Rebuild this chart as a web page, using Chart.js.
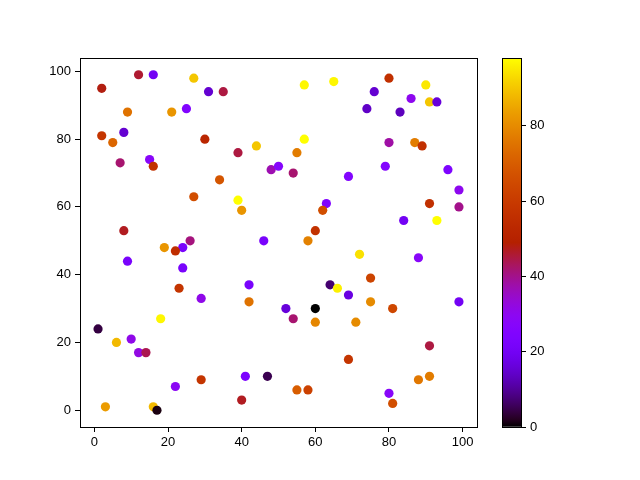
<!DOCTYPE html>
<html>
<head>
<meta charset="utf-8">
<script src="https://cdn.jsdelivr.net/npm/chart.js@4"></script>
<style>
  body { margin: 0; background: #fff; }
  #wrap { position: relative; width: 640px; height: 480px; }
  canvas { position: absolute; left: 0; top: 0; }
</style>
</head>
<body>
<div id="wrap">
  <canvas id="scatter" width="640" height="480"></canvas>
  <canvas id="cbar" width="640" height="480"></canvas>
</div>
<script>
// data
const xs = [12, 16, 27, 2, 31, 35, 9, 21, 25, 2, 8, 5, 30, 44, 39, 7, 15, 16, 48, 50,
            34, 27, 39, 40, 8, 26, 19, 24, 22, 46, 9, 24, 23, 29, 42, 42, 18, 1, 6, 10,
            12, 14, 41, 47, 29, 22, 40, 3, 16, 17, 57, 65, 80, 76, 74, 83, 86, 90, 91, 93,
            57, 55, 80, 87, 89, 54, 69, 79, 96, 99, 99, 91, 93, 84, 63, 62, 60, 58, 72, 88,
            75, 64, 66, 69, 75, 81, 99, 52, 60, 54, 60, 71, 91, 69, 55, 58, 88, 91, 80, 81];
const ys = [99, 99, 98, 95, 94, 94, 88, 88, 89, 81, 82, 79, 80, 78, 76, 73, 74, 72, 71, 72,
            68, 63, 62, 59, 53, 50, 48, 48, 47, 50, 44, 42, 36, 33, 37, 32, 27, 24, 20, 21,
            17, 17, 10, 10, 9, 7, 3, 1, 1, 0, 96, 97, 98, 94, 89, 88, 92, 96, 91, 91,
            80, 76, 79, 79, 78, 70, 69, 72, 71, 65, 60, 61, 56, 56, 61, 59, 53, 50, 46, 45,
            39, 37, 36, 34, 32, 30, 32, 30, 30, 27, 26, 26, 19, 15, 6, 6, 9, 10, 5, 2];
const cs = [46, 20, 90, 48, 15, 45, 75, 82, 25, 58, 15, 72, 52, 90, 45, 42, 28, 57, 37, 27,
            68, 66, 98, 82, 47, 41, 82, 22, 55, 22, 22, 22, 58, 31, 22, 75, 97, 4, 88, 31,
            32, 44, 23, 5, 58, 29, 47, 83, 88, 1, 97, 97, 56, 15, 14, 13, 30, 95, 90, 16,
            98, 77, 38, 77, 56, 42, 26, 26, 24, 30, 40, 56, 98, 20, 25, 66, 57, 78, 94, 28,
            63, 7, 96, 17, 80, 64, 20, 16, 0, 42, 79, 80, 45, 58, 70, 62, 76, 77, 28, 66];

const xTicks = [0, 20, 40, 60, 80, 100];
const yTicks = [0, 20, 40, 60, 80, 100];
const cbTicks = [0, 20, 40, 60, 80];
const cMin = 0;
const cMax = 98;

// matplotlib "gnuplot" colormap
function gnuplot(t) {
  t = Math.min(1, Math.max(0, t));
  const r = Math.sqrt(t);
  const g = t * t * t;
  const b = Math.max(0, Math.sin(2 * Math.PI * t));
  return `rgb(${Math.round(r * 255)},${Math.round(g * 255)},${Math.round(b * 255)})`;
}

const FONT = { family: 'Liberation Sans, Arial, sans-serif', size: 13 };
Chart.defaults.font = FONT;
Chart.defaults.color = '#000';

const frame = {
  id: 'frame',
  afterDatasetsDraw(chart) {
    const a = chart.chartArea;
    const ctx = chart.ctx;
    ctx.save();
    ctx.strokeStyle = '#000';
    ctx.lineWidth = 1;
    ctx.strokeRect(Math.round(a.left) + 0.5, Math.round(a.top) + 0.5,
                   Math.round(a.right - a.left), Math.round(a.bottom - a.top));
    ctx.restore();
  }
};

const points = xs.map((x, i) => ({ x, y: ys[i] }));

new Chart(document.getElementById('scatter'), {
  type: 'scatter',
  data: {
    datasets: [{
      data: points,
      pointRadius: 4.6,
      pointHoverRadius: 4.6,
      pointBorderWidth: 0,
      pointBackgroundColor: cs.map(c => gnuplot((c - cMin) / (cMax - cMin)))
    }]
  },
  options: {
    responsive: false,
    animation: false,
    devicePixelRatio: 1,
    layout: { padding: { left: 0, top: 58, right: 163, bottom: 0 } },
    plugins: { legend: { display: false }, tooltip: { enabled: false } },
    scales: {
      x: {
        type: 'linear',
        min: -3.9, max: 103.9,
        afterBuildTicks: s => { s.ticks = xTicks.map(v => ({ value: v })); },
        afterFit: s => { s.height = 53; },
        grid: { drawOnChartArea: false, tickLength: 5, tickColor: '#000', color: '#000' },
        border: { color: '#000' },
        ticks: { padding: 3, maxRotation: 0 }
      },
      y: {
        type: 'linear',
        min: -4.95, max: 103.95,
        afterBuildTicks: s => { s.ticks = yTicks.map(v => ({ value: v })); },
        afterFit: s => { s.width = 80; },
        grid: { drawOnChartArea: false, tickLength: 5, tickColor: '#000', color: '#000' },
        border: { color: '#000' },
        ticks: { padding: 4 }
      }
    }
  },
  plugins: [frame]
});

// colour bar
new Chart(document.getElementById('cbar'), {
  type: 'bar',
  data: {
    labels: ['c'],
    datasets: [{
      data: [[cMin, cMax]],
      barPercentage: 1,
      categoryPercentage: 1,
      borderWidth: 0,
      backgroundColor: ctx => {
        const area = ctx.chart.chartArea;
        if (!area) return '#000';
        const g = ctx.chart.ctx.createLinearGradient(0, area.bottom, 0, area.top);
        for (let i = 0; i <= 50; i++) g.addColorStop(i / 50, gnuplot(i / 50));
        return g;
      }
    }]
  },
  options: {
    responsive: false,
    animation: false,
    devicePixelRatio: 1,
    layout: { padding: { left: 502, top: 58, right: 79, bottom: 53 } },
    plugins: { legend: { display: false }, tooltip: { enabled: false } },
    scales: {
      x: { display: false },
      y: {
        position: 'right',
        min: cMin, max: cMax,
        afterBuildTicks: s => { s.ticks = cbTicks.map(v => ({ value: v })); },
        afterFit: s => { s.width = 40; },
        grid: { drawOnChartArea: false, tickLength: 5, tickColor: '#000', color: '#000' },
        border: { display: false },
        ticks: { padding: 4 }
      }
    }
  },
  plugins: [frame]
});
</script>
</body>
</html>
